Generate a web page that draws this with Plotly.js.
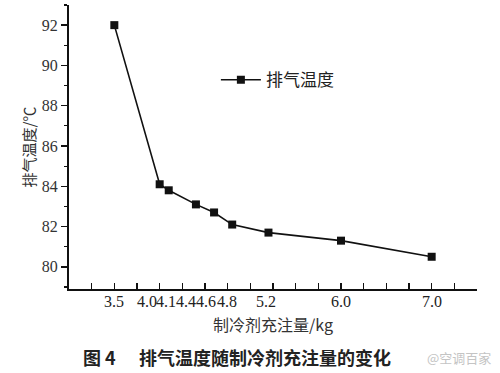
<!DOCTYPE html>
<html>
<head>
<meta charset="utf-8">
<script src="https://cdn.plot.ly/plotly-3.0.1.min.js"></script>
<style>
  html, body { margin: 0; padding: 0; background: #fff; }
  #chart { width: 500px; height: 373px; }
</style>
</head>
<body>
<div id="chart"></div>
<script>
// ---- data ----
const chargeKg = [3.5, 4.0, 4.1, 4.4, 4.6, 4.8, 5.2, 6.0, 7.0];
const dischargeTempC = [92.0, 84.1, 83.8, 83.1, 82.7, 82.1, 81.7, 81.3, 80.5];
const xTickLabels = ['3.5', '4.0', '4.1', '4.4', '4.6', '4.8', '5.2', '6.0', '7.0'];
const seriesName = '排气温度';
const xTitle = '制冷剂充注量/kg';
const yTitle = '排气温度/℃';
const captionNo = '图 4';
const captionText = '排气温度随制冷剂充注量的变化';
const watermark = '@空调百家';

// label nudges (pixels) so crowded tick labels sit side by side as in the original
const labelNudge = [0, -13, -3, -10, -8, -5, -2, 0, 0];

const serif = '"Liberation Serif", "Times New Roman", "Noto Sans CJK SC", serif';
const cjk = '"Noto Sans CJK SC", "Liberation Sans", sans-serif';

const trace = {
  x: chargeKg,
  y: dischargeTempC,
  name: seriesName,
  type: 'scatter',
  mode: 'lines+markers',
  line: { color: '#111', width: 1.6 },
  marker: { symbol: 'square', size: 8, color: '#111' },
  showlegend: true
};

const tickAnnotations = chargeKg.map((v, i) => ({
  x: v, xref: 'x', y: 0, yref: 'paper',
  xanchor: 'center', yanchor: 'top', yshift: -3, xshift: labelNudge[i],
  borderpad: 0,
  text: xTickLabels[i], showarrow: false,
  font: { family: serif, size: 16, color: '#222' }
}));

const layout = {
  width: 500, height: 373,
  margin: { l: 69, r: 23, t: 5, b: 84 },
  paper_bgcolor: '#fff', plot_bgcolor: '#fff',
  showlegend: true,
  legend: {
    x: 0.36, y: 0.735, xanchor: 'left', yanchor: 'middle',
    bgcolor: 'rgba(0,0,0,0)', itemwidth: 40,
    font: { family: cjk, size: 17, color: '#222' }
  },
  xaxis: {
    range: [3.0, 7.5],
    showline: true, linecolor: '#111', linewidth: 2,
    showgrid: false, zeroline: false,
    tickmode: 'linear', tick0: 3.0, dtick: 0.25,
    ticks: 'inside', ticklen: 6, tickwidth: 1.5, tickcolor: '#111',
    showticklabels: false,
    title: { text: xTitle, standoff: 30, font: { family: cjk, size: 16, color: '#333' } }
  },
  yaxis: {
    range: [78.9, 93],
    showline: true, linecolor: '#111', linewidth: 2,
    showgrid: false, zeroline: false,
    tickmode: 'linear', tick0: 80, dtick: 2,
    ticks: 'outside', ticklen: 6, tickwidth: 1.5, tickcolor: '#111',
    minor: { tickmode: 'linear', tick0: 79, dtick: 1, ticks: 'outside', ticklen: 3, tickwidth: 1.2, tickcolor: '#111' },
    tickfont: { family: serif, size: 16, color: '#333' },
    title: { text: yTitle, standoff: 3, font: { family: cjk, size: 15, color: '#333' } }
  },
  annotations: tickAnnotations.concat([
    {
      x: 0.03, xref: 'paper', y: -0.24, yref: 'paper',
      xanchor: 'left', yanchor: 'middle', showarrow: false,
      text: '<b>' + captionNo + '</b>',
      font: { family: cjk, size: 18, color: '#222' }
    },
    {
      x: 0.167, xref: 'paper', y: -0.24, yref: 'paper',
      xanchor: 'left', yanchor: 'middle', showarrow: false,
      text: '<b>' + captionText + '</b>',
      font: { family: cjk, size: 18, color: '#222' }
    },
    {
      x: 1.04, xref: 'paper', y: -0.24, yref: 'paper',
      xanchor: 'right', yanchor: 'middle', showarrow: false,
      text: watermark,
      font: { family: cjk, size: 13, color: '#c4c4c4' }
    }
  ])
};

Plotly.newPlot('chart', [trace], layout, { displayModeBar: false, staticPlot: true });
</script>
</body>
</html>
